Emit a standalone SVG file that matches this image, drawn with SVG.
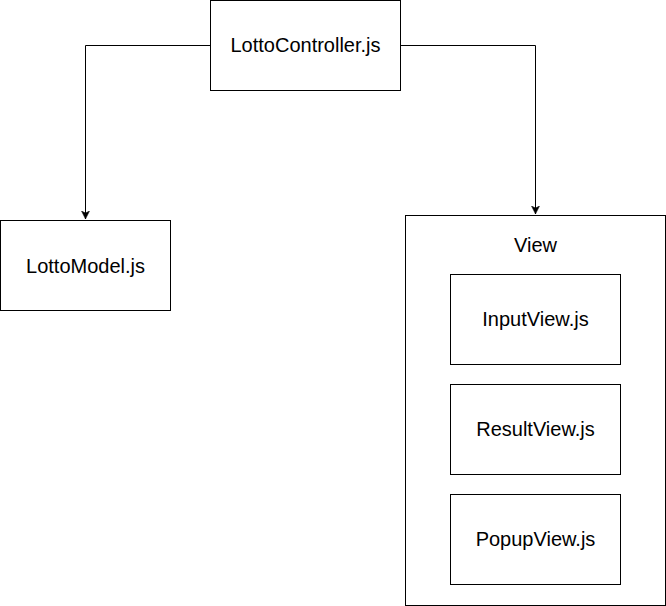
<svg xmlns="http://www.w3.org/2000/svg" width="666" height="606" viewBox="0 0 666 606">
<style>
.box{fill:#fff;stroke:#000;stroke-width:1}
.lbl{font-family:"Liberation Sans",Arial,Helvetica,sans-serif;font-size:20px;fill:#000;text-anchor:middle}
.edge{fill:none;stroke:#000;stroke-width:1}
</style>
<defs>
<marker id="arr" markerWidth="10" markerHeight="10" refX="8" refY="4" orient="auto" markerUnits="userSpaceOnUse">
<path d="M0,0 L8,4 L0,8 L2,4 Z" fill="#000" stroke="#000" stroke-width="0.5"/>
</marker>
</defs>
<rect width="666" height="606" fill="#fff"/>
<g id="connectors">
<path class="edge" d="M210,45.5 H85.5 V219" marker-end="url(#arr)"/>
<path class="edge" d="M400,45.5 H535.5 V214" marker-end="url(#arr)"/>
</g>
<g id="controller">
<rect class="box" x="210.5" y="0.5" width="190" height="90"/>
<text class="lbl" x="305.5" y="52">LottoController.js</text>
</g>
<g id="model">
<rect class="box" x="0.5" y="220.5" width="170" height="90"/>
<text class="lbl" x="85.5" y="273">LottoModel.js</text>
</g>
<g id="view">
<rect class="box" x="405.5" y="215.5" width="260" height="390"/>
<text class="lbl" x="535.5" y="252">View</text>
</g>
<g id="inputview">
<rect class="box" x="450.5" y="274.5" width="170" height="90"/>
<text class="lbl" x="535.5" y="326">InputView.js</text>
</g>
<g id="resultview">
<rect class="box" x="450.5" y="384.5" width="170" height="90"/>
<text class="lbl" x="535.5" y="436">ResultView.js</text>
</g>
<g id="popupview">
<rect class="box" x="450.5" y="494.5" width="170" height="90"/>
<text class="lbl" x="535.5" y="546">PopupView.js</text>
</g>
</svg>
